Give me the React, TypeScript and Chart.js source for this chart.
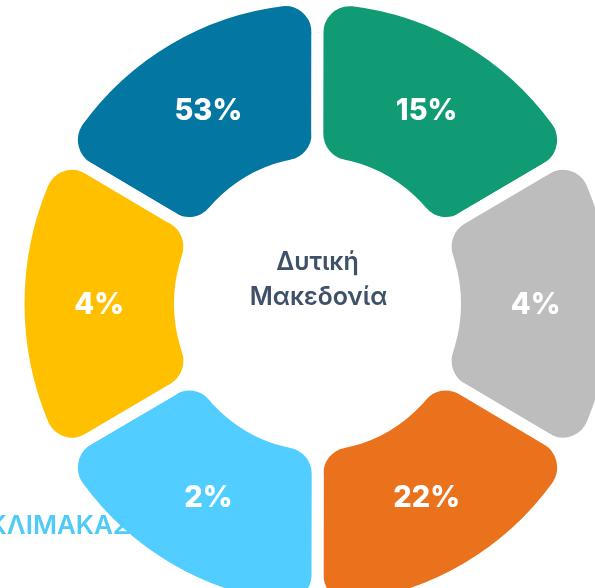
import { useEffect, useRef } from "react";
import { Chart, registerables } from "chart.js";

Chart.register(...registerables);

// Six equal segments, clockwise from the upper-left one
const categories = ["Τμήμα 1", "Τμήμα 2", "Τμήμα 3", "Τμήμα 4", "Τμήμα 5", "Τμήμα 6"];
const segmentShares = [1, 1, 1, 1, 1, 1];
const percentValues = [53, 15, 4, 22, 2, 4];
const segmentColors = ["#0376A2", "#119B75", "#BDBDBD", "#EB721D", "#51CEFF", "#FFC000"];
const centerLines = ["Δυτική", "Μακεδονία"];
const sideLabel = "ΚΛΙΜΑΚΑΣ";

const CANVAS_W = 635;
const CANVAS_H = 602;
const STRETCH_Y = 1.0225;
const SHIFT_Y = -4;

const stretchPlugin = {
  id: "stretch",
  beforeDraw(chart: any) {
    const ctx = chart.ctx as CanvasRenderingContext2D;
    ctx.save();
    ctx.translate(0, SHIFT_Y);
    ctx.scale(1, STRETCH_Y);
  },
  afterDraw(chart: any) {
    chart.ctx.restore();
  },
};

const labelPlugin = {
  id: "segmentLabels",
  afterDatasetsDraw(chart: any) {
    const ctx = chart.ctx as CanvasRenderingContext2D;
    const meta = chart.getDatasetMeta(0);
    ctx.save();
    ctx.fillStyle = "#FFFFFF";
    ctx.font = "800 29px Inter";
    ctx.textAlign = "center";
    ctx.textBaseline = "middle";
    meta.data.forEach((arc: any, i: number) => {
      const p = arc.tooltipPosition(false);
      ctx.fillText(percentValues[i] + "%", p.x, p.y + 1);
    });
    const first = meta.data[0];
    const cx = first ? first.x : CANVAS_W / 2;
    const cy = first ? first.y : CANVAS_H / 2;
    ctx.fillStyle = "#3F5069";
    ctx.font = "600 25px Inter";
    ctx.fillText(centerLines[0], cx, cy - 41);
    ctx.fillText(centerLines[1], cx + 1, cy - 6);
    ctx.restore();
  },
  afterDraw(chart: any) {
    const ctx = chart.ctx as CanvasRenderingContext2D;
    ctx.save();
    ctx.setTransform(1, 0, 0, 1, 0, 0);
    ctx.fillStyle = "#4FCBF6";
    ctx.font = "600 26px Inter";
    ctx.textAlign = "right";
    ctx.textBaseline = "alphabetic";
    ctx.fillText(sideLabel, 131, 534);
    ctx.restore();
  },
};

export default function App() {
  const canvasRef = useRef<HTMLCanvasElement | null>(null);

  useEffect(() => {
    if (!canvasRef.current) return;
    const chart = new Chart(canvasRef.current, {
      type: "doughnut",
      data: {
        labels: categories,
        datasets: [
          {
            data: segmentShares,
            backgroundColor: segmentColors,
            borderColor: "#FFFFFF",
            borderWidth: 12,
            borderRadius: 32,
            hoverOffset: 0,
          },
        ],
      },
      options: {
        responsive: false,
        animation: false,
        rotation: -60,
        radius: 299,
        cutout: "46%",
        layout: { padding: 0 },
        plugins: {
          legend: { display: false },
          tooltip: { enabled: false },
        },
        events: [],
      },
      plugins: [labelPlugin, stretchPlugin],
    });
    return () => chart.destroy();
  }, []);

  return (
    <div
      style={{
        position: "fixed",
        left: 0,
        top: 0,
        width: 595,
        height: 588,
        overflow: "hidden",
        background: "#FFFFFF",
      }}
    >
      <canvas ref={canvasRef} width={CANVAS_W} height={CANVAS_H} />
    </div>
  );
}
